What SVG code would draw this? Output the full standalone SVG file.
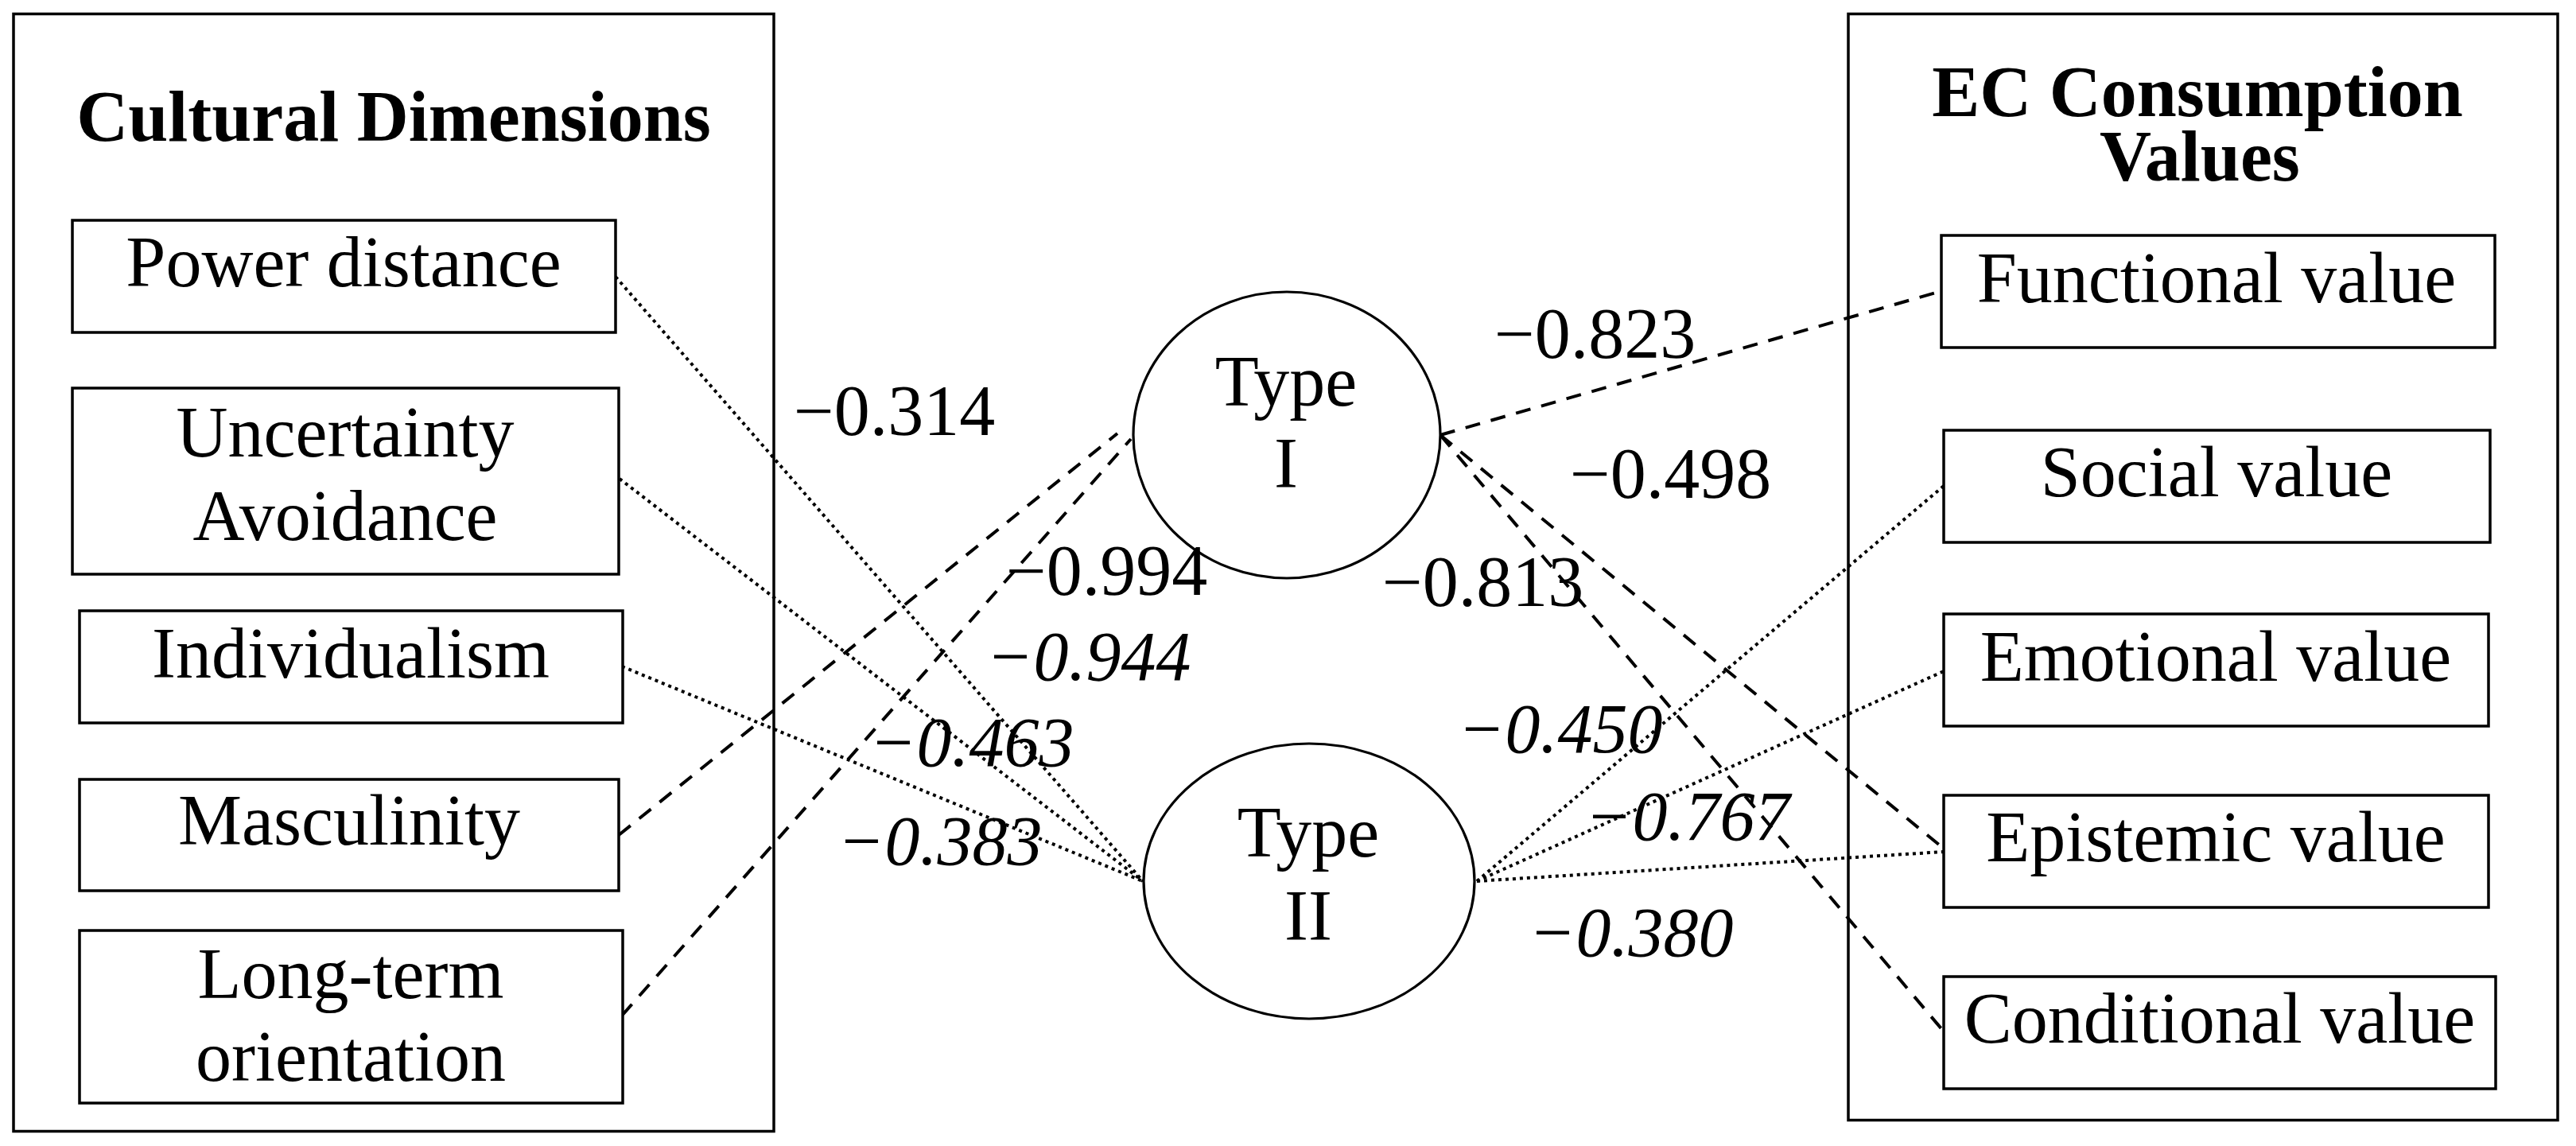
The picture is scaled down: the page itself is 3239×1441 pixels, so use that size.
<svg xmlns="http://www.w3.org/2000/svg" width="3239" height="1441" viewBox="0 0 3239 1441">
<style>
  .frame { fill: none; stroke: #000; stroke-width: 3.5; }
  .box { fill: #fff; stroke: #000; stroke-width: 3.5; }
  .ell { fill: #fff; stroke: #000; stroke-width: 3.2; }
  .lbl { font-family: "Liberation Serif", "Times New Roman", serif; font-size: 90px; fill: #000; text-anchor: middle; }
  .ttl { font-family: "Liberation Serif", "Times New Roman", serif; font-size: 90px; font-weight: bold; fill: #000; text-anchor: middle; }
  .num { font-family: "Liberation Serif", "Times New Roman", serif; font-size: 90px; fill: #000; }
  .numi { font-family: "Liberation Serif", "Times New Roman", serif; font-size: 88px; font-style: italic; fill: #000; }
  .dot { fill: none; stroke: #000; stroke-width: 4; stroke-dasharray: 4 5; }
  .dash { fill: none; stroke: #000; stroke-width: 4; stroke-dasharray: 19 14; }
</style>
<rect width="3239" height="1441" fill="#fff"/>

<g id="group-cultural">
  <rect class="frame" x="17" y="17.5" width="956" height="1405"/>
  <text class="ttl" x="495" y="177">Cultural Dimensions</text>
</g>
<g id="group-values">
  <rect class="frame" x="2324" y="17.5" width="892" height="1391"/>
  <text class="ttl" x="2763" y="146">EC Consumption</text>
  <text class="ttl" x="2766" y="227">Values</text>
</g>

<g id="connectors">
  <line class="dot" x1="774" y1="348" x2="1437" y2="1108"/>
  <line class="dot" x1="779" y1="602" x2="1437" y2="1108"/>
  <line class="dot" x1="782" y1="838" x2="1437" y2="1108"/>
  <line class="dot" x1="1857" y1="1108" x2="2444" y2="611"/>
  <line class="dot" x1="1857" y1="1108" x2="2444" y2="844"/>
  <line class="dot" x1="1857" y1="1108" x2="2444" y2="1071"/>
  <line class="dash" x1="778" y1="1050" x2="1405" y2="545"/>
  <line class="dash" x1="782" y1="1277" x2="1422" y2="552"/>
  <line class="dash" x1="1811" y1="547" x2="2441" y2="366"/>
  <line class="dash" x1="1811" y1="547" x2="2444" y2="1067"/>
  <line class="dash" x1="1811" y1="547" x2="2444" y2="1297"/>
</g>

<g id="power-distance">
  <rect class="box" x="91" y="277" width="683" height="141"/>
  <text class="lbl" x="432" y="360">Power distance</text>
</g>
<g id="uncertainty-avoidance">
  <rect class="box" x="91" y="488" width="687" height="234"/>
  <text class="lbl" x="434" y="574">Uncertainty</text>
  <text class="lbl" x="434" y="679">Avoidance</text>
</g>
<g id="individualism">
  <rect class="box" x="100" y="768" width="683" height="141"/>
  <text class="lbl" x="441" y="852">Individualism</text>
</g>
<g id="masculinity">
  <rect class="box" x="100" y="980" width="678" height="140"/>
  <text class="lbl" x="439" y="1062">Masculinity</text>
</g>
<g id="long-term-orientation">
  <rect class="box" x="100" y="1170" width="683" height="217"/>
  <text class="lbl" x="441" y="1255">Long-term</text>
  <text class="lbl" x="441" y="1359">orientation</text>
</g>

<g id="type-i">
  <ellipse class="ell" cx="1618" cy="547" rx="193" ry="180"/>
  <text class="lbl" x="1617" y="510">Type</text>
  <text class="lbl" x="1617" y="613">I</text>
</g>
<g id="type-ii">
  <ellipse class="ell" cx="1646" cy="1108" rx="208" ry="173"/>
  <text class="lbl" x="1645" y="1077">Type</text>
  <text class="lbl" x="1645" y="1182">II</text>
</g>

<g id="functional-value">
  <rect class="box" x="2441" y="296" width="696" height="141"/>
  <text class="lbl" x="2787" y="380">Functional value</text>
</g>
<g id="social-value">
  <rect class="box" x="2444" y="541" width="687" height="141"/>
  <text class="lbl" x="2787" y="624">Social value</text>
</g>
<g id="emotional-value">
  <rect class="box" x="2444" y="772" width="685" height="141"/>
  <text class="lbl" x="2786" y="856">Emotional value</text>
</g>
<g id="epistemic-value">
  <rect class="box" x="2444" y="1000" width="685" height="141"/>
  <text class="lbl" x="2786" y="1083">Epistemic value</text>
</g>
<g id="conditional-value">
  <rect class="box" x="2444" y="1228" width="694" height="141"/>
  <text class="lbl" x="2791" y="1311">Conditional value</text>
</g>

<g id="labels">
  <text class="num" x="998" y="547">−0.314</text>
  <text class="num" x="1879" y="450">−0.823</text>
  <text class="num" x="1974" y="626">−0.498</text>
  <text class="num" x="1265" y="748">−0.994</text>
  <text class="num" x="1738" y="762">−0.813</text>
  <text class="numi" x="1240" y="855">−0.944</text>
  <text class="numi" x="1093" y="963">−0.463</text>
  <text class="numi" x="1833" y="946">−0.450</text>
  <text class="numi" x="1053" y="1087">−0.383</text>
  <text class="numi" x="1993" y="1056">−0.767</text>
  <text class="numi" x="1922" y="1202">−0.380</text>
</g>
</svg>
